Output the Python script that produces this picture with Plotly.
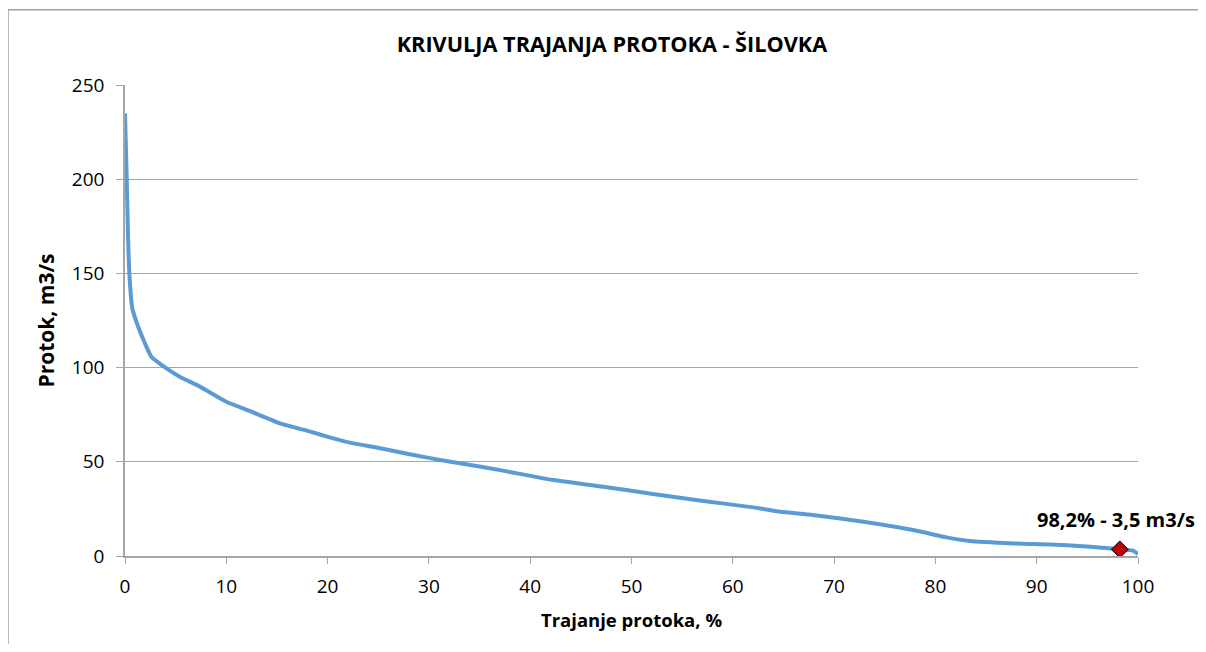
import plotly.graph_objects as go

# Flow duration curve data
trajanje_pct = [0, 0.1, 0.17, 0.3, 0.43, 0.72, 1.3, 1.97, 2.6, 4.1, 5.4, 7.4, 10.0, 12.3,
                15.3, 18.3, 20.2, 22.2, 25.2, 28.1, 31.1, 34.1, 37.3, 42.3, 47.2, 52.1,
                57.1, 62.0, 64.7, 67.9, 72.9, 77.8, 81.1, 83.4, 87.7, 92.6, 98.0, 99.5, 100]
protok = [235, 215, 200, 170, 150, 131.5, 121.7, 112.9, 105.8, 99.6, 95.2, 89.9, 81.9, 77.0,
          70.4, 66.0, 63.0, 60.2, 57.2, 54.0, 51.0, 48.3, 45.3, 40.3, 36.8, 32.9,
          29.2, 25.8, 23.5, 21.8, 18.2, 13.8, 9.9, 8.0, 6.7, 5.8, 3.7, 2.8, 1.0]

marker_x = [98.2]
marker_y = [3.5]
marker_label = "98,2% - 3,5 m3/s"

x_ticks = [0, 10, 20, 30, 40, 50, 60, 70, 80, 90, 100]
y_ticks = [0, 50, 100, 150, 200, 250]

title_text = "KRIVULJA TRAJANJA PROTOKA - ŠILOVKA"
x_title = "Trajanje protoka, %"
y_title = "Protok, m3/s"

FONT = "Open Sans"

fig = go.Figure()
fig.add_trace(go.Scatter(x=trajanje_pct, y=protok, mode="lines",
                         line=dict(color="#5B9BD5", width=4, shape="spline", smoothing=0.5),
                         hoverinfo="skip", showlegend=False))
fig.add_trace(go.Scatter(x=marker_x, y=marker_y, mode="markers",
                         marker=dict(symbol="diamond", size=13, color="#C00000",
                                     line=dict(color="black", width=1)),
                         showlegend=False))

fig.add_annotation(x=marker_x[0], y=marker_y[0], text="<b>" + marker_label + "</b>",
                   showarrow=False, xanchor="center", yanchor="bottom",
                   xshift=-4, yshift=14,
                   font=dict(family=FONT, size=20, color="black"))

# page body has an 8px margin; figure is 1190x636 so it fills the 1206x652 window
fig.add_shape(type="rect", xref="paper", yref="paper",
              x0=-0.1155, y0=-0.4, x1=1.2, y1=1.160,
              line=dict(color="#A0A0A0", width=1.5), layer="below")

fig.update_layout(
    width=1190, height=636,
    margin=dict(l=117, r=60, t=77, b=88),
    paper_bgcolor="white", plot_bgcolor="white",
    title=dict(text="<b>" + title_text + "</b>", x=0.5075, xanchor="center",
               y=(636 - 36) / 636, yanchor="middle",
               font=dict(family=FONT, size=21.7, color="black")),
    font=dict(family=FONT, color="black"),
    xaxis=dict(range=[0, 100], tickvals=x_ticks, ticktext=[str(t) for t in x_ticks],
               showgrid=False, zeroline=False, showline=True, linecolor="#A6A6A6",
               linewidth=1.5, ticks="outside", ticklen=6, tickcolor="#A6A6A6",
               tickfont=dict(family=FONT, size=19), ticklabelstandoff=6,
               title=dict(text="<b>" + x_title + "</b>", standoff=17,
                          font=dict(family=FONT, size=18.5))),
    yaxis=dict(range=[0, 250], tickvals=y_ticks, ticktext=[str(t) for t in y_ticks],
               showgrid=True, gridcolor="#A6A6A6", gridwidth=1.2, zeroline=False,
               showline=True, linecolor="#A6A6A6", linewidth=1.5,
               ticks="outside", ticklen=7, tickcolor="#A6A6A6",
               tickfont=dict(family=FONT, size=19), ticklabelstandoff=8,
               title=dict(text="<b>" + y_title + "</b>", standoff=12,
                          font=dict(family=FONT, size=21))),
)

fig.write_html("out.html")
